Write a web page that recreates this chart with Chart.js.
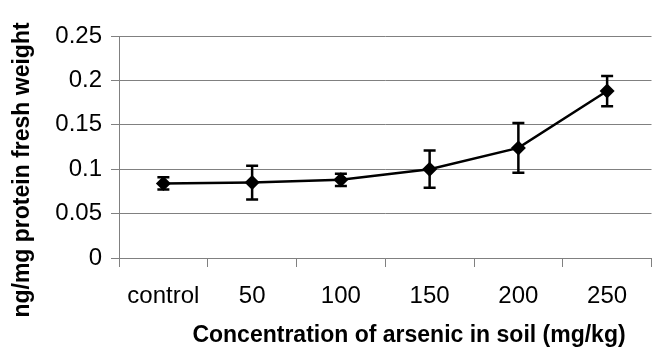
<!DOCTYPE html>
<html>
<head>
<meta charset="utf-8">
<script src="https://cdn.jsdelivr.net/npm/chart.js"></script>
<style>
html, body { margin: 0; padding: 0; background: #fff; }
</style>
</head>
<body>
<canvas id="chart" width="659" height="347"></canvas>
<script>
const categories = ['control', '50', '100', '150', '200', '250'];
const means = [0.084, 0.085, 0.088, 0.100, 0.124, 0.188];
const errors = [0.007, 0.019, 0.007, 0.021, 0.028, 0.017];
const yMin = 0;
const yMax = 0.25;
const yStep = 0.05;
const xTitle = 'Concentration of arsenic in soil (mg/kg)';
const yTitle = 'ng/mg protein fresh weight';

const FONT = '"Liberation Sans", Arial, sans-serif';

// error bars drawn from the scales
const errorBars = {
    id: 'errorBars',
    afterDatasetsDraw(chart) {
        const { ctx, scales: { x, y } } = chart;
        ctx.save();
        ctx.strokeStyle = '#000';
        ctx.lineWidth = 2.5;
        means.forEach((m, i) => {
            const px = x.getPixelForValue(i);
            const top = y.getPixelForValue(m + errors[i]);
            const bot = y.getPixelForValue(m - errors[i]);
            ctx.beginPath();
            ctx.moveTo(px, top); ctx.lineTo(px, bot);
            ctx.moveTo(px - 6, top); ctx.lineTo(px + 6, top);
            ctx.moveTo(px - 6, bot); ctx.lineTo(px + 6, bot);
            ctx.stroke();
        });
        ctx.restore();
    }
};

// axis titles, placed like the original
const axisTitles = {
    id: 'axisTitles',
    afterDraw(chart) {
        const ctx = chart.ctx;
        ctx.save();
        ctx.fillStyle = '#000';
        ctx.font = 'bold 23px ' + FONT;
        ctx.textAlign = 'center';
        ctx.textBaseline = 'alphabetic';
        ctx.fillText(xTitle, 409, 342);
        ctx.translate(29, 170);
        ctx.rotate(-Math.PI / 2);
        ctx.fillText(yTitle, 0, 0);
        ctx.restore();
    }
};

new Chart(document.getElementById('chart'), {
    type: 'line',
    data: {
        labels: categories,
        datasets: [{
            data: means,
            borderColor: '#000',
            borderWidth: 2.5,
            tension: 0,
            pointStyle: 'rectRot',
            pointRadius: 7.5,
            pointBackgroundColor: '#000',
            pointBorderColor: '#000',
            pointBorderWidth: 0
        }]
    },
    options: {
        responsive: false,
        animation: false,
        layout: { padding: { top: 36, right: 1, left: 0, bottom: 0 } },
        plugins: { legend: { display: false }, tooltip: { enabled: false } },
        scales: {
            x: {
                offset: true,
                afterFit: s => { s.height = 89; },
                grid: { offset: true, drawOnChartArea: false, tickLength: 9, color: '#808080' },
                border: { color: '#808080' },
                ticks: { color: '#000', font: { family: FONT, size: 24 }, padding: 15 }
            },
            y: {
                min: yMin,
                max: yMax,
                afterFit: s => { s.width = 119; },
                grid: { color: '#808080', tickLength: 8 },
                border: { color: '#808080' },
                ticks: {
                    stepSize: yStep,
                    color: '#000',
                    font: { family: FONT, size: 24 },
                    padding: 9,
                    callback: v => String(Number(v.toFixed(2)))
                }
            }
        }
    },
    plugins: [errorBars, axisTitles]
});
</script>
</body>
</html>
